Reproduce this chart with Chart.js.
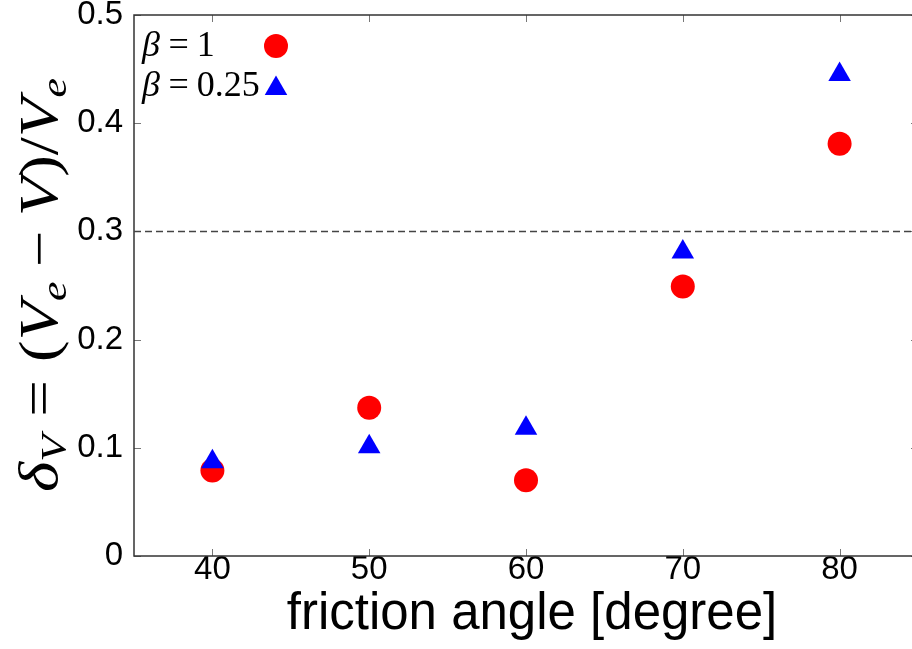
<!DOCTYPE html>
<html>
<head>
<meta charset="utf-8">
<script src="https://cdn.jsdelivr.net/npm/chart.js@4.4.1/dist/chart.umd.min.js"></script>
<style>
  html, body { margin: 0; padding: 0; overflow: hidden; background: #fff; }
  #wrap { width: 920px; height: 649px; }
  canvas { display: block; }
</style>
</head>
<body>
<div id="wrap"><canvas id="myChart" width="920" height="649" style="width:920px;height:649px"></canvas></div>
<script>
// data
const angles = [40, 50, 60, 70, 80];
const beta1 = [0.079, 0.137, 0.070, 0.249, 0.381];
const beta025 = [0.087, 0.101, 0.118, 0.281, 0.445];
const refLevel = 0.3;
const xMin = 35, xMax = 85;
const xTicks = [40, 50, 60, 70, 80];
const yTicks = [0, 0.1, 0.2, 0.3, 0.4, 0.5];

const SERIF = '"Liberation Serif", "DejaVu Serif", serif';
const SANS = '"Liberation Sans", Arial, sans-serif';

// draws a small run of "math" text along the current x axis, returns width
function mathRun(ctx, parts, size, x0, y0, draw) {
  let x = x0;
  for (const p of parts) {
    if (p.gap) { x += p.gap * size; continue; }
    const fs = p.sub ? size * 0.68 : size;
    ctx.font = (p.it ? 'italic ' : '') + fs + 'px ' + SERIF;
    const y = p.sub ? y0 + size * 0.17 : y0;
    if (draw) ctx.fillText(p.t, x, y);
    x += ctx.measureText(p.t).width;
  }
  return x - x0;
}

const yTitleParts = [
  {t: 'δ', it: true}, {t: 'V', it: true, sub: true}, {gap: 0.28}, {t: '='}, {gap: 0.28},
  {t: '('}, {t: 'V', it: true}, {t: 'e', it: true, sub: true}, {gap: 0.22}, {t: '−'}, {gap: 0.22},
  {t: 'V', it: true}, {t: ')'}, {t: '/'}, {t: 'V', it: true}, {t: 'e', it: true, sub: true}
];

const legendRows = [
  {parts: [{t: 'β', it: true}, {gap: 0.24}, {t: '='}, {gap: 0.22}, {t: '1'}], y: 56, mark: 'circle', color: '#ff0000', my: 46, r: 12},
  {parts: [{t: 'β', it: true}, {gap: 0.24}, {t: '='}, {gap: 0.22}, {t: '0.25'}], y: 96, mark: 'triangle', color: '#0000ff', my: 88.5, r: 13}
];

const framePlugin = {
  id: 'frame',
  beforeDatasetsDraw(chart) {
    const {ctx, chartArea: a, scales} = chart;
    ctx.save();
    ctx.strokeStyle = '#777';
    ctx.lineWidth = 1;
    ctx.beginPath();
    xTicks.forEach(v => {
      const px = Math.round(scales.x.getPixelForValue(v)) + 0.5;
      ctx.moveTo(px, a.bottom); ctx.lineTo(px, a.bottom - 7);
      ctx.moveTo(px, a.top); ctx.lineTo(px, a.top + 7);
    });
    yTicks.forEach(v => {
      const py = Math.round(scales.y.getPixelForValue(v)) + 0.5;
      ctx.moveTo(a.left, py); ctx.lineTo(a.left + 7, py);
      ctx.moveTo(a.right, py); ctx.lineTo(a.right - 7, py);
    });
    ctx.stroke();
    ctx.strokeStyle = '#333';
    ctx.lineWidth = 1.5;
    ctx.strokeRect(a.left, a.top, a.right - a.left, a.bottom - a.top);
    ctx.restore();
  },
  afterDraw(chart) {
    const ctx = chart.ctx;
    ctx.save();
    ctx.fillStyle = '#000';
    ctx.textBaseline = 'alphabetic';

    // x title
    ctx.font = '51px ' + SANS;
    ctx.textAlign = 'center';
    ctx.fillText('friction angle [degree]', 532, 629);
    ctx.textAlign = 'left';

    // y title, rotated
    const size = 54;
    const w = mathRun(ctx, yTitleParts, size, 0, 0, false);
    ctx.save();
    ctx.translate(57, 492);
    ctx.rotate(-Math.PI / 2);
    ctx.scale(414 / w, 1);
    mathRun(ctx, yTitleParts, size, 0, 0, true);
    ctx.restore();

    // legend text and markers
    legendRows.forEach(row => {
      ctx.fillStyle = '#000';
      mathRun(ctx, row.parts, 36, 142, row.y, true);
      ctx.fillStyle = row.color;
      Chart.helpers.drawPoint(ctx, {pointStyle: row.mark, radius: row.r, borderWidth: 0}, 276, row.my);
    });
    ctx.restore();
  }
};

new Chart('myChart', {
  type: 'scatter',
  data: {
    datasets: [
      {
        label: 'beta = 1',
        data: angles.map((a, i) => ({x: a, y: beta1[i]})),
        pointStyle: 'circle',
        pointRadius: 12,
        backgroundColor: '#ff0000',
        borderWidth: 0,
        order: 2
      },
      {
        label: 'beta = 0.25',
        data: angles.map((a, i) => ({x: a, y: beta025[i]})),
        pointStyle: 'triangle',
        pointRadius: 13,
        backgroundColor: '#0000ff',
        borderWidth: 0,
        order: 1
      },
      {
        type: 'line',
        label: 'ref',
        data: [{x: xMin, y: refLevel}, {x: xMax, y: refLevel}],
        borderColor: '#444',
        borderWidth: 1.5,
        borderDash: [7, 4],
        pointRadius: 0,
        fill: false,
        order: 3
      }
    ]
  },
  options: {
    responsive: false,
    animation: false,
    devicePixelRatio: 1,
    layout: { autoPadding: false, padding: { top: 15, right: 2, left: 0, bottom: 0 } },
    plugins: {
      legend: { display: false },
      tooltip: { enabled: false }
    },
    scales: {
      x: {
        type: 'linear',
        min: xMin,
        max: xMax,
        afterBuildTicks: s => { s.ticks = xTicks.map(v => ({value: v})); },
        afterFit: s => { s.height = 93; s.paddingLeft = 0; s.paddingRight = 0; },
        grid: { display: false, drawTicks: false },
        border: { display: false },
        ticks: {
          font: { family: SANS, size: 33, lineHeight: 1 },
          color: '#000',
          padding: -3,
          maxRotation: 0,
          autoSkip: false
        }
      },
      y: {
        min: 0,
        max: 0.5,
        afterBuildTicks: s => { s.ticks = yTicks.map(v => ({value: v})); },
        afterFit: s => { s.width = 134; s.paddingTop = 0; s.paddingBottom = 0; },
        grid: { display: false, drawTicks: false },
        border: { display: false },
        ticks: {
          font: { family: SANS, size: 33, lineHeight: 1 },
          color: '#000',
          padding: 11,
          callback: v => String(v)
        }
      }
    }
  },
  plugins: [framePlugin]
});
</script>
</body>
</html>
